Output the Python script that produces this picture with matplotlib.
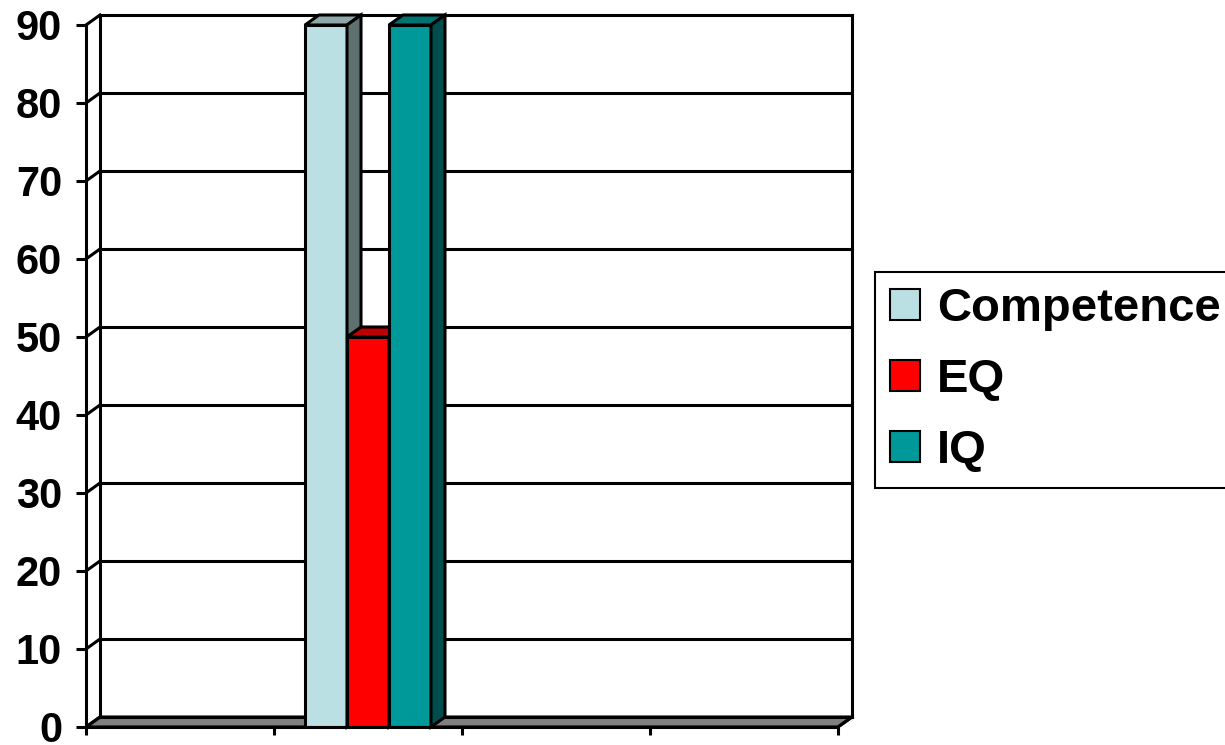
import numpy as np
import matplotlib.pyplot as plt
from matplotlib.patches import Polygon, Patch

plt.rcParams['font.family'] = ['Liberation Sans', 'DejaVu Sans']
plt.rcParams['font.weight'] = 'bold'

# four categories, only the second one has values
categories = ['', '', '', '']
series = ['Competence', 'EQ', 'IQ']
competence = [0, 90, 0, 0]
eq = [0, 50, 0, 0]
iq = [0, 90, 0, 0]
yticks = [0, 10, 20, 30, 40, 50, 60, 70, 80, 90]

front_colors = ['#BBE0E3', '#FF0000', '#009999']
top_colors = ['#8FA9AB', '#BF0000', '#007272']
side_colors = ['#5F7071', '#8C0000', '#004D4D']

# depth of the fake 3d box (in data units)
dx = 14 / 188.0
dy = 10 / 7.8
n = len(categories)
ymax = yticks[-1]
lw = 2.2

fig = plt.figure(figsize=(12.25, 7.45), dpi=100)
ax = fig.add_axes([86 / 1225, 18 / 745, 766 / 1225, 712 / 745])
ax.set_xlim(0, n + dx)
ax.set_ylim(0, ymax + dy)
ax.patch.set_visible(False)

# floor
floor = Polygon([(0, 0), (n, 0), (n + dx, dy), (dx, dy)], closed=True,
                facecolor='#808080', edgecolor='black', lw=lw, zorder=1)
ax.add_patch(floor)

# back wall gridlines and left wall edges
for v in yticks:
    ax.plot([dx, n + dx], [v + dy, v + dy], color='black', lw=lw, clip_on=False, zorder=1)
    ax.plot([0, dx], [v, v + dy], color='black', lw=lw, clip_on=False, zorder=1)
ax.plot([dx, dx], [dy, ymax + dy], color='black', lw=lw, clip_on=False, zorder=1)
ax.plot([n + dx, n + dx], [dy, ymax + dy], color='black', lw=lw, clip_on=False, zorder=1)
ax.plot([n, n + dx], [0, dy], color='black', lw=lw, clip_on=False, zorder=1)

# bars, left to right so each one hides the side of the previous
group = 0.67
w = group / len(series)
x = np.arange(n)
values = [competence, eq, iq]
z = 2
for i, vals in enumerate(values):
    x0 = x + 0.5 - group / 2 + i * w
    for xi, v in zip(x0, vals):
        if v <= 0:
            continue
        ax.bar(xi, v, width=w, align='edge', color=front_colors[i],
               edgecolor='black', lw=lw, zorder=z)
        top = Polygon([(xi, v), (xi + w, v), (xi + w + dx, v + dy), (xi + dx, v + dy)],
                      closed=True, facecolor=top_colors[i], edgecolor='black',
                      lw=lw, zorder=z, clip_on=False)
        side = Polygon([(xi + w, 0), (xi + w + dx, dy), (xi + w + dx, v + dy), (xi + w, v)],
                       closed=True, facecolor=side_colors[i], edgecolor='black',
                       lw=lw, zorder=z, clip_on=False)
        ax.add_patch(top)
        ax.add_patch(side)
        z += 1

# axes: front y axis and category axis
for s in ['top', 'right']:
    ax.spines[s].set_visible(False)
ax.spines['left'].set_bounds(0, ymax)
ax.spines['bottom'].set_bounds(0, n)
ax.spines['left'].set_linewidth(lw)
ax.spines['bottom'].set_linewidth(lw)
ax.spines['left'].set_zorder(10)
ax.spines['bottom'].set_zorder(10)

ax.set_yticks(yticks)
ax.set_yticklabels([str(t) for t in yticks], fontsize=30, fontweight='bold')
ax.set_xticks(np.arange(n + 1))
ax.set_xticklabels([])
ax.tick_params(axis='y', length=7.2, width=lw, pad=10)
ax.tick_params(axis='x', length=6, width=lw)

handles = [Patch(facecolor=c, edgecolor='black', lw=1.5) for c in front_colors]
fig.legend(handles, series, loc='upper left',
           bbox_to_anchor=(875 / 1225, 1 - 272 / 745),
           frameon=True, fancybox=False, edgecolor='black', framealpha=1,
           prop={'size': 34, 'weight': 'bold'},
           handlelength=0.64, handleheight=0.64, handletextpad=0.36,
           labelspacing=0.57, borderpad=0.32, borderaxespad=0)
fig.legends[0].get_frame().set_linewidth(1.5)

fig.savefig('out.png', dpi=100)
